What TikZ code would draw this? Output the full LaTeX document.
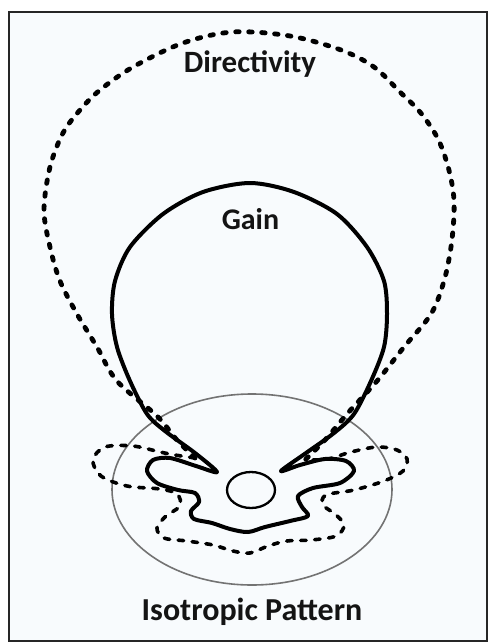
\documentclass[tikz,border=0pt]{standalone}
\usepackage{fontspec}
\setmainfont{Carlito}
\begin{document}
\begin{tikzpicture}[x=1pt,y=-1pt,
  lbl/.style={font=\bfseries, inner sep=0pt, anchor=base, text=black!92},
  frameline/.style={draw=black!85, line width=1.6pt, fill=bgblue},
  gainline/.style={line width=4pt, black, line join=round},
  dirline/.style={line width=4.8pt, black, line cap=round, dash pattern=on 3.5pt off 9.5pt},
  lowdash/.style={line width=3.6pt, black, line cap=round, dash pattern=on 5.5pt off 8.5pt},
  isoline/.style={draw=black!55, line width=1.6pt},
  smallcirc/.style={draw=black, line width=2.3pt}]
\definecolor{bgblue}{HTML}{F8FBFD}
\useasboundingbox (0,0) rectangle (488,642);
\fill[white] (0,0) rectangle (488,642);
\draw[frameline] (9,12) rectangle (487,641);

% isotropic pattern (gray ellipse)
\draw[isoline] (252,489.5) ellipse [x radius=140, y radius=95.5];

% small circle
\draw[smallcirc] (251,490) ellipse [x radius=24, y radius=18];

% directivity: upper part
\draw[dirline] plot[smooth, tension=0.55] coordinates {
 (195,458) (176,439) (157,416) (117,381) (97,347) (77,314) (60,281) (50,247)
 (44,210) (50,167) (63,133) (80,110) (100,90) (133,67) (183,43) (233,32)
 (290,36) (341,50) (374,67) (400,92) (420,112) (437,137) (447,163) (453,190)
 (454,214) (451,247) (444,281) (431,314) (404,347) (377,381) (347,414) (325,440) (305,460)};

% directivity: lower part (side and back lobes)
\draw[lowdash] plot[smooth, tension=0.55] coordinates {
 (195,458) (175,455) (160,452) (133,446) (105,447) (93,460) (101,476) (127,486)
 (160,489) (177,494) (180,506) (166,516) (157,528) (164,538) (187,541) (213,545)
 (233,551) (250,553) (268,546) (287,541) (311,540) (336,536) (344,525) (335,514)
 (323,505) (326,495) (354,490) (384,481) (403,471) (407,459) (397,450) (377,447)
 (351,452) (328,459) (305,460)};

% gain
\draw[gainline] plot[smooth cycle, tension=0.5] coordinates {
 (250,183) (294,192) (337,214) (367,247) (384,281) (387,314) (384,347) (371,381)
 (354,414) (334,433) (306,453) (281,471) (300,465) (325,459) (346,461) (354,471)
 (340,483) (313,488) (298,496) (302,507) (308,516) (290,521) (265,527) (248,532)
 (230,529) (212,523) (194,519) (191,511) (199,502) (195,493) (178,490) (157,483)
 (147,471) (153,460) (170,458) (196,466) (217,472) (195,453) (165,431) (147,414)
 (130,381) (117,347) (112,314) (115,281) (130,247) (163,214) (203,192)};

% labels
\node[lbl, font=\bfseries\fontsize{31}{32}\selectfont] (dir) at (250,73) {Directivity};
\node[lbl, font=\bfseries\fontsize{30}{31}\selectfont] (gain) at (250.5,229) {Gain};
\node[lbl, font=\bfseries\fontsize{32}{33}\selectfont] (iso) at (252,620) {Isotropic Pattern};
\end{tikzpicture}
\end{document}
